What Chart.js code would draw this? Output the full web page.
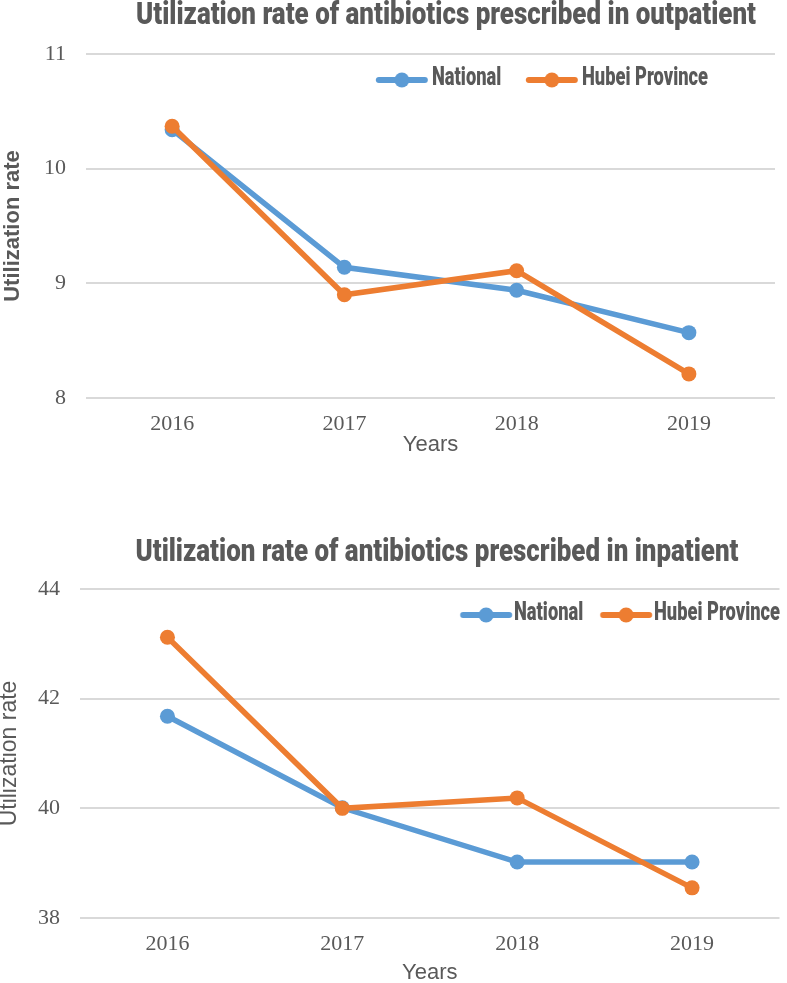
<!DOCTYPE html>
<html><head><meta charset="utf-8">
<script src="https://cdn.jsdelivr.net/npm/chart.js@4.4.1/dist/chart.umd.min.js"></script>
<style>
html,body{margin:0;padding:0;background:#fff;overflow:hidden;}
.wrap{position:absolute;left:0;width:787px;}
#w1{top:0;height:470px;}
#w2{top:520px;height:463px;}
</style></head><body>
<div class="wrap" id="w1"><canvas id="c1"></canvas></div>
<div class="wrap" id="w2"><canvas id="c2"></canvas></div>
<script>
// ---------- data ----------
const years = ['2016', '2017', '2018', '2019'];
const seriesNames = ['National', 'Hubei Province'];
const outNational = [10.34, 9.14, 8.94, 8.57];
const outHubei = [10.37, 8.90, 9.11, 8.21];
const inNational = [41.68, 40.01, 39.02, 39.02];
const inHubei = [43.12, 40.00, 40.19, 38.55];
const outTicks = [8, 9, 10, 11];
const inTicks = [38, 40, 42, 44];
const chartTitles = ['Utilization rate of antibiotics prescribed in outpatient',
                     'Utilization rate of antibiotics prescribed in inpatient'];
const yAxisTitle = 'Utilization rate';
const xAxisTitle = 'Years';

// ---------- style ----------
const BLUE = '#5B9BD5', ORANGE = '#ED7D31', GREY = '#595959', GRID = '#D9D9D9';
const SANS = "'Liberation Sans', Arial, sans-serif";
const HEAVY = "Roboto, 'Liberation Sans', Arial, sans-serif";
const SERIF = "'Liberation Serif', 'Times New Roman', serif";
const TITLE_SIZE = 31, LEG_SIZE = 25, HEAVY_W = '900';

const mctx = document.createElement('canvas').getContext('2d');
function textW(font, t) { mctx.font = font; return mctx.measureText(t).width; }
const legFont = HEAVY_W + ' ' + LEG_SIZE + 'px ' + HEAVY;
const legScale = 126 / textW(legFont, seriesNames[1]);

const specs = [
  {id: 'c1', H: 470, area: {left: 86, right: 775, top: 54, bottom: 398}, titleCenter: 16, titleCx: 446, titleW: 620,
   yT: {weight: 'bold', size: 22, pad: 0}, xPad: 12, leg: {anchor: 376, textOff: 56, item2: 526, y: 79},
   data: [outNational, outHubei], ticks: outTicks, title: chartTitles[0]},
  {id: 'c2', H: 463, area: {left: 80, right: 783, top: 69, bottom: 398}, titleCenter: 33, titleCx: 437, titleW: 603,
   yT: {weight: 'normal', size: 23, pad: -4}, xPad: -3, leg: {anchor: 460, textOff: 54, item2: 600, y: 94},
   data: [inNational, inHubei], ticks: inTicks, title: chartTitles[1]}
];

function markerImage(color, s, c) {
  // c: marker centre offset (screen px) from anchor
  const h = Math.max(c, 52 - c) + 2;
  const cv = document.createElement('canvas');
  cv.width = Math.round(2 * h / s); cv.height = 20;
  const g = cv.getContext('2d');
  g.scale(1 / s, 1);
  const x0 = h - c;
  g.strokeStyle = color; g.lineWidth = 6; g.lineCap = 'round';
  g.beginPath(); g.moveTo(x0 + 3, 11); g.lineTo(x0 + 49, 11); g.stroke();
  g.fillStyle = color; g.beginPath(); g.arc(x0 + 26, 11, 7.5, 0, Math.PI * 2); g.fill();
  return cv;
}

function build(sp) {
  const s = legScale;
  const B = sp.leg.textOff / s - LEG_SIZE / 2;
  const w1 = textW(legFont, seriesNames[0]);
  const P = (sp.leg.item2 - sp.leg.anchor - sp.leg.textOff - s * w1) / s;
  const c = s * B / 2;
  const titleFont = HEAVY_W + ' ' + TITLE_SIZE + 'px ' + HEAVY;
  const tScale = sp.titleW / textW(titleFont, sp.title);
  const tPadTop = sp.titleCenter - TITLE_SIZE * 0.6;
  const tPadBottom = sp.area.top - tPadTop - TITLE_SIZE * 1.2;

  const layoutPlugin = {
    id: 'customLayout',
    beforeLayout(chart) {
      const lg = chart.legend;
      if (lg && !lg._fitWrapped) {
        const of = lg.fit.bind(lg);
        lg.fit = function () { of(); this.height = 0; };
        lg._fitWrapped = true;
      }
    },
    afterLayout(chart) {
      const lg = chart.legend;
      if (lg) {
        lg.left = sp.leg.anchor - P; lg.right = lg.left + 4000; lg.width = 4000;
        lg.top = sp.leg.y - P - LEG_SIZE / 2; lg.bottom = lg.top + 400; lg.height = 400;
        if (!lg._wrapped) {
          const orig = lg.draw.bind(lg);
          lg.draw = function (a) {
            const ctx = chart.ctx; const ax = sp.leg.anchor;
            ctx.save(); ctx.translate(ax, 0); ctx.scale(s, 1); ctx.translate(-ax, 0);
            orig(a); ctx.restore();
          };
          lg._wrapped = true;
        }
      }
      const tb = chart.titleBlock;
      if (tb) {
        tb.left = sp.titleCx - 800; tb.right = sp.titleCx + 800;
        if (!tb._wrapped) {
          const origT = tb.draw.bind(tb);
          tb.draw = function (a) {
            const ctx = chart.ctx; const cx = sp.titleCx;
            ctx.save(); ctx.translate(cx, 0); ctx.scale(tScale, 1); ctx.translate(-cx, 0);
            origT(a); ctx.restore();
          };
          tb._wrapped = true;
        }
      }
    }
  };

  const colors = [BLUE, ORANGE];
  return new Chart(document.getElementById(sp.id), {
    type: 'line',
    data: {
      labels: years,
      datasets: seriesNames.map((n, i) => ({
        label: n, data: sp.data[i], order: 1 - i,
        borderColor: colors[i], backgroundColor: colors[i],
        pointBackgroundColor: colors[i], pointBorderColor: colors[i],
        borderWidth: 5.5, pointRadius: 7.5, pointBorderWidth: 0, pointHoverRadius: 7.5,
        tension: 0, fill: false
      }))
    },
    options: {
      responsive: true, maintainAspectRatio: false, animation: false,
      layout: {padding: {left: 0, right: 787 - sp.area.right, top: 0, bottom: 0}},
      plugins: {
        tooltip: {enabled: false},
        title: {
          display: true, text: sp.title, color: GREY,
          font: {family: HEAVY, weight: HEAVY_W, size: TITLE_SIZE, lineHeight: 1.2},
          padding: {top: tPadTop, bottom: tPadBottom}
        },
        legend: {
          display: true, position: 'top', align: 'start',
          labels: {
            color: GREY, font: {family: HEAVY, weight: HEAVY_W, size: LEG_SIZE},
            usePointStyle: true, pointStyleWidth: B, boxHeight: LEG_SIZE, padding: P,
            generateLabels(chart) {
              const items = Chart.defaults.plugins.legend.labels.generateLabels(chart);
              items.sort((a, b) => a.datasetIndex - b.datasetIndex);
              items.forEach(it => {
                it.pointStyle = markerImage(chart.data.datasets[it.datasetIndex].borderColor, s, c);
                it.lineWidth = 0;
              });
              return items;
            }
          }
        }
      },
      scales: {
        x: {
          offset: true,
          grid: {display: false, drawTicks: false},
          border: {display: false},
          ticks: {color: GREY, padding: 13, font: {family: SERIF, size: 22}},
          title: {display: true, text: xAxisTitle, color: GREY, font: {family: SANS, size: 22, lineHeight: 1.2},
                  padding: {top: 0, bottom: sp.xPad}},
          afterFit(scale) { scale.height = sp.H - sp.area.bottom; }
        },
        y: {
          min: sp.ticks[0], max: sp.ticks[sp.ticks.length - 1],
          grid: {color: GRID, lineWidth: 2, drawTicks: false},
          border: {display: false},
          ticks: {stepSize: sp.ticks[1] - sp.ticks[0], color: GREY, padding: 20, font: {family: SERIF, size: 22}},
          title: {display: true, text: yAxisTitle, color: GREY,
                  font: {family: SANS, size: sp.yT.size, weight: sp.yT.weight, lineHeight: 1.2},
                  padding: {top: sp.yT.pad, bottom: 0}},
          afterFit(scale) { scale.width = sp.area.left; }
        }
      }
    },
    plugins: [layoutPlugin]
  });
}
specs.forEach(build);
</script>
</body></html>
